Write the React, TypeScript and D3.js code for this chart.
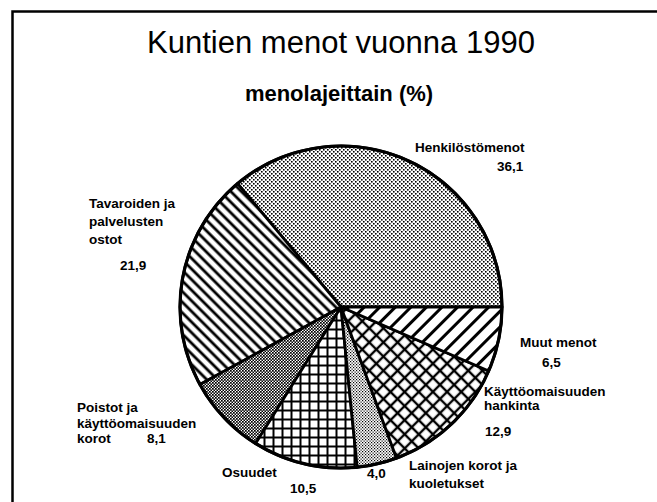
import React from "react";
import * as d3 from "d3";

// menolajit (%), vastapäivään alkaen klo 3:sta
const categories = [
  "Henkilöstömenot",
  "Tavaroiden ja palvelusten ostot",
  "Poistot ja käyttöomaisuuden korot",
  "Osuudet",
  "Lainojen korot ja kuoletukset",
  "Käyttöomaisuuden hankinta",
  "Muut menot",
];
const values = [36.1, 21.9, 8.1, 10.5, 4.0, 12.9, 6.5];
const labelLines = [
  ["Henkilöstömenot"],
  ["Tavaroiden ja", "palvelusten", "ostot"],
  ["Poistot ja", "käyttöomaisuuden", "korot"],
  ["Osuudet"],
  ["Lainojen korot ja", "kuoletukset"],
  ["Käyttöomaisuuden", "hankinta"],
  ["Muut menot"],
];

const W = 657;
const H = 502;
const cx = 341;
const cy = 307;
const R = 161;

// label placement: [name x, first baseline, line height, value x, value baseline]
const labelPos = [
  [415, 152, 15, 497, 171],
  [89, 208, 18, 120, 270],
  [77, 412, 15.5, 147, 443],
  [222, 477, 15, 290, 493],
  [409, 470, 18, 367, 478],
  [484, 396, 13.5, 485, 436],
  [520, 347, 15, 542, 367],
];

const fills = ["url(#pDots)", "url(#pBack)", "url(#pDense)", "url(#pGrid)", "url(#pFine)", "url(#pDiamond)", "url(#pFwd)"];

const fmt = (v: number) => v.toFixed(1).replace(".", ",");

export default function App() {
  const pie = d3
    .pie<number>()
    .sort(null)
    .startAngle(Math.PI / 2)
    .endAngle(Math.PI / 2 - 2 * Math.PI);
  const arcs = pie(values);
  const arc = d3.arc<d3.PieArcDatum<number>>().innerRadius(0).outerRadius(R);
  const font = "'Liberation Sans', Arial, Helvetica, sans-serif";

  return (
    <svg
      width={W}
      height={H}
      style={{ position: "absolute", left: 0, top: 0, background: "#fff" }}
      fontFamily={font}
    >
      <defs>
        <pattern id="pDots" width={4} height={4} patternUnits="userSpaceOnUse">
          <rect width={4} height={4} fill="#fff" />
          <rect x={0} y={0} width={1.6} height={1.6} fill="#000" />
          <rect x={2} y={2} width={1.6} height={1.6} fill="#000" />
        </pattern>
        <pattern id="pDense" width={3} height={3} patternUnits="userSpaceOnUse">
          <rect width={3} height={3} fill="#fff" />
          <rect x={0} y={0} width={1.7} height={1.7} fill="#000" />
          <rect x={1.5} y={1.5} width={1.7} height={1.7} fill="#000" />
        </pattern>
        <pattern id="pFine" width={3} height={3} patternUnits="userSpaceOnUse">
          <rect width={3} height={3} fill="#fff" />
          <rect x={0} y={0} width={1.2} height={1.2} fill="#000" />
          <rect x={1.5} y={1.5} width={1.2} height={1.2} fill="#000" />
        </pattern>
        <pattern id="pBack" width={7.5} height={7.5} patternUnits="userSpaceOnUse" patternTransform="rotate(45)">
          <rect width={7.5} height={7.5} fill="#fff" />
          <line x1={0} y1={3.75} x2={7.5} y2={3.75} stroke="#000" strokeWidth={2.8} />
        </pattern>
        <pattern id="pFwd" width={11} height={11} patternUnits="userSpaceOnUse" patternTransform="rotate(-45)">
          <rect width={11} height={11} fill="#fff" />
          <line x1={0} y1={5.5} x2={11} y2={5.5} stroke="#000" strokeWidth={3} />
        </pattern>
        <pattern id="pDiamond" width={10} height={10} patternUnits="userSpaceOnUse" patternTransform="rotate(45)">
          <rect width={10} height={10} fill="#fff" />
          <line x1={0} y1={5} x2={10} y2={5} stroke="#000" strokeWidth={2.4} />
          <line x1={5} y1={0} x2={5} y2={10} stroke="#000" strokeWidth={2.4} />
        </pattern>
        <pattern id="pGrid" width={9} height={9} patternUnits="userSpaceOnUse">
          <rect width={9} height={9} fill="#fff" />
          <line x1={0} y1={4.5} x2={9} y2={4.5} stroke="#000" strokeWidth={2} />
          <line x1={4.5} y1={0} x2={4.5} y2={9} stroke="#000" strokeWidth={2} />
        </pattern>
      </defs>

      {/* kehys */}
      <path d={`M12.5,${H} V11.5 H${W}`} fill="none" stroke="#000" strokeWidth={2.5} />

      <text x={341} y={53} textAnchor="middle" fontSize={31}>
        Kuntien menot vuonna 1990
      </text>
      <text x={339} y={101} textAnchor="middle" fontSize={22} fontWeight="bold">
        menolajeittain (%)
      </text>

      <g transform={`translate(${cx},${cy})`}>
        {arcs.map((a, i) => (
          <path key={categories[i]} d={arc(a) || ""} fill={fills[i]} stroke="#000" strokeWidth={2.8} strokeLinejoin="round" />
        ))}
        <circle r={R} fill="none" stroke="#000" strokeWidth={3.2} />
      </g>

      <g fontSize={13.5} fontWeight="bold">
        {labelLines.map((lines, i) => {
          const [lx, ly, lh, vx, vy] = labelPos[i];
          return (
            <g key={categories[i]}>
              {lines.map((t, j) => (
                <text key={j} x={lx} y={ly + j * lh}>
                  {t}
                </text>
              ))}
              <text x={vx} y={vy}>
                {fmt(values[i])}
              </text>
            </g>
          );
        })}
      </g>
    </svg>
  );
}
